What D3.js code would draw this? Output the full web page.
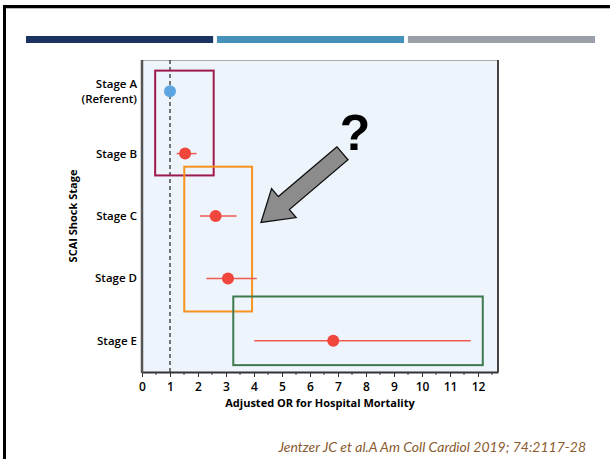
<!DOCTYPE html>
<html><head><meta charset="utf-8">
<script src="https://cdn.jsdelivr.net/npm/d3@7"></script>
<style>body{margin:0;background:#fff}svg{display:block}</style>
</head><body>
<script>
const stages = ["Stage A", "Stage B", "Stage C", "Stage D", "Stage E"];
const stageSub = ["(Referent)", "", "", "", ""];
const orValues = [1.0, 1.54, 2.63, 3.07, 6.83];
const ciLow = [1.0, 1.24, 2.07, 2.3, 4.01];
const ciHigh = [1.0, 1.95, 3.38, 4.1, 11.74];
const xTicks = [0,1,2,3,4,5,6,7,8,9,10,11,12];
// annotation boxes: x in OR units, y in row-index units
const boxX0 = [0.47, 1.51, 3.26];
const boxX1 = [2.56, 3.93, 12.17];
const boxY0 = [-0.33, 1.21, 3.29];
const boxY1 = [1.35, 3.53, 4.39];
const boxColors = ["#9e1a4c", "#f7931e", "#3d7a4f"];

const W = 610, H = 459;
const svg = d3.select("body").append("svg").attr("width", W).attr("height", H);

// frame
svg.append("rect").attr("x",4.5).attr("y",6.5).attr("width",W).attr("height",H).attr("fill","none").attr("stroke","#000").attr("stroke-width",3);
svg.append("line").attr("x1",6).attr("x2",W).attr("y1",8.5).attr("y2",8.5).attr("stroke","#bbb").attr("stroke-width",1);

// header bars
const barColors = ["#1a3360", "#4691bb", "#9aa0a8"];
const barX = d3.scaleBand().domain([0,1,2]).range([26, 595]).paddingInner(0.02);
svg.selectAll(".hb").data(barColors).enter().append("rect")
  .attr("x",(d,i)=>barX(i)).attr("y",36).attr("width",barX.bandwidth()).attr("height",7).attr("fill",d=>d);

const L = 142, R = 498, T = 60, B = 372;
const x = d3.scaleLinear().domain([0, 12.714]).range([L, R]);
const y = d3.scalePoint().domain(stages).range([T, B]).padding(0.5);
const step = y.step();
const yi = i => y(stages[0]) + i * step;

svg.append("rect").attr("x",L).attr("y",T).attr("width",R-L).attr("height",B-T).attr("fill","#edf4fc");
svg.append("line").attr("x1",L).attr("x2",R).attr("y1",T+0.5).attr("y2",T+0.5).attr("stroke","#aaa").attr("stroke-width",1);
svg.append("line").attr("x1",R).attr("x2",R).attr("y1",T).attr("y2",B).attr("stroke","#444").attr("stroke-width",2);

// dashed ref line
svg.append("line").attr("x1",x(1)).attr("x2",x(1)).attr("y1",T).attr("y2",B)
  .attr("stroke","#222").attr("stroke-width",1.2).attr("stroke-dasharray","4,3");

// boxes
boxColors.forEach((c,i)=>{
  svg.append("rect").attr("x",x(boxX0[i])).attr("y",yi(boxY0[i]))
    .attr("width",x(boxX1[i])-x(boxX0[i])).attr("height",yi(boxY1[i])-yi(boxY0[i]))
    .attr("fill","none").attr("stroke",c).attr("stroke-width",2);
});

// CI lines and points
stages.forEach((s,i)=>{
  if (ciHigh[i] > ciLow[i]) {
    svg.append("line").attr("x1",x(ciLow[i])).attr("x2",x(ciHigh[i])).attr("y1",y(s)).attr("y2",y(s))
      .attr("stroke","#f05a50").attr("stroke-width",1.5);
  }
  svg.append("circle").attr("cx",x(orValues[i])).attr("cy",y(s)).attr("r",6)
    .attr("fill", i===0 ? "#5da5e0" : "#f0463c");
});

// axes
const xAxis = d3.axisBottom(x).tickValues(xTicks).tickFormat(d3.format("d")).tickSize(5).tickSizeOuter(0);
const gx = svg.append("g").attr("transform",`translate(0,${B})`).call(xAxis);
gx.select(".domain").attr("stroke","#333").attr("stroke-width",2);
gx.selectAll(".tick line").attr("stroke","#333");
gx.selectAll("text").attr("font-family","Open Sans").attr("font-size",12).attr("font-weight",600).attr("fill","#000").attr("dy","0.9em");
const minor = d3.range(0.5, 12.6, 1);
svg.selectAll(".minor").data(minor).enter().append("line")
  .attr("x1",d=>x(d)).attr("x2",d=>x(d)).attr("y1",B).attr("y2",B+3).attr("stroke","#333");

svg.append("line").attr("x1",L).attr("x2",L).attr("y1",T).attr("y2",B+1).attr("stroke","#555").attr("stroke-width",2.5);

// y labels
stages.forEach((s,i)=>{
  const t = svg.append("text").attr("text-anchor","end").attr("font-family","Open Sans")
    .attr("font-size",11.5).attr("font-weight",600).attr("fill","#000").attr("x",137);
  if (stageSub[i]) {
    t.append("tspan").attr("x",137).attr("y",y(s)-3).text(s);
    t.append("tspan").attr("x",137).attr("y",y(s)+12).text(stageSub[i]);
  } else {
    t.attr("y",y(s)+4).text(s);
  }
});

svg.append("text").attr("transform",`translate(77,${(T+B)/2}) rotate(-90)`).attr("text-anchor","middle")
  .attr("font-family","Open Sans").attr("font-weight","bold").attr("font-size",11).text("SCAI Shock Stage");
svg.append("text").attr("x",(L+R)/2).attr("y",407).attr("text-anchor","middle")
  .attr("font-family","Open Sans").attr("font-weight","bold").attr("font-size",11).text("Adjusted OR for Hospital Mortality");

// arrow
const tail = [342.5, 153.3], tip = [261, 222.5];
const dx = tip[0]-tail[0], dy = tip[1]-tail[1], len = Math.hypot(dx,dy);
const ux = dx/len, uy = dy/len, px = -uy, py = ux;
const sw = 8.5, hw = 19, hl = 30;
const bx = tip[0]-ux*hl, by = tip[1]-uy*hl;
const pts = [
  [tail[0]+px*sw, tail[1]+py*sw],
  [bx+px*sw, by+py*sw],
  [bx+px*hw, by+py*hw],
  tip,
  [bx-px*hw, by-py*hw],
  [bx-px*sw, by-py*sw],
  [tail[0]-px*sw, tail[1]-py*sw]
];
svg.append("path").attr("d", d3.line()(pts)+"Z").attr("fill","#8c8c8c").attr("stroke","#111").attr("stroke-width",1.3);
svg.append("text").attr("x",355).attr("y",150).attr("text-anchor","middle")
  .attr("font-family","Liberation Sans").attr("font-weight","bold").attr("font-size",50).text("?");

// citation
svg.append("text").attr("x",586).attr("y",452).attr("text-anchor","end")
  .attr("font-family","Lato").attr("font-style","italic").attr("font-size",14).attr("fill","#8a5a30")
  .text("Jentzer JC et al.A Am Coll Cardiol 2019; 74:2117-28");
</script>
</body></html>
